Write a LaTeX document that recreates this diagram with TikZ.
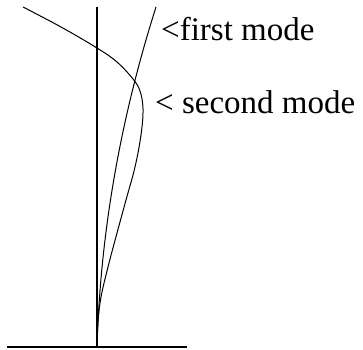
\documentclass[tikz,border=0pt]{standalone}
\usepackage{fontspec}
\setmainfont{Liberation Serif}
\usetikzlibrary{positioning}
\tikzset{
    every node/.style={font=\fontsize{33}{36}\selectfont},
    axis/.style={line width=1.1pt},
    mode/.style={line width=1pt,line join=round},
    modelabel/.style={anchor=base west,inner sep=0pt}
}
\begin{document}
\begin{tikzpicture}[x=1pt,y=1pt]
\useasboundingbox (-97,-2) rectangle (266,347);
% ground and column
\coordinate (foot) at (0,0);
\draw[axis] (-90,0) -- (90,0);
\draw[axis] (foot) -- (0,340);
% first mode
\draw[mode] plot[domain=0:340,samples=60] ({10*\x/340+49*(\x/340)^2},\x);
% second mode
\draw[mode] plot[smooth,tension=0.6] coordinates {(0,0) (1,25) (4,50) (11,80) (20,114) (29,147) (38,180) (44,212) (46,238) (43,256) (36,268) (20,285) (0,299) (-36,320) (-74,340)};
\node[modelabel] (first) at (64,307) {<first mode};
\node[modelabel] (second) at (58,234) {< second mode};
\end{tikzpicture}
\end{document}
